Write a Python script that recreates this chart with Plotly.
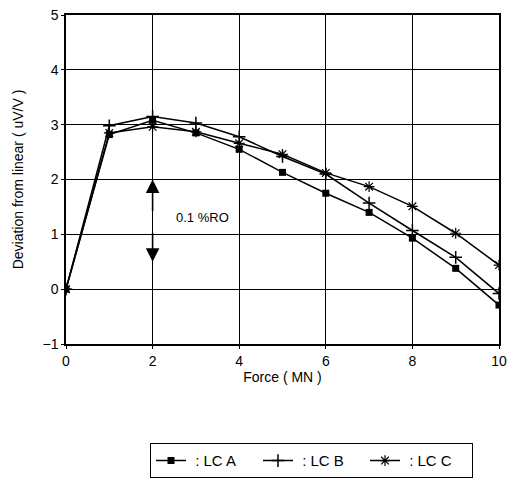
import plotly.graph_objects as go

force = [0, 1, 2, 3, 4, 5, 6, 7, 8, 9, 10]
lc_a = [0, 2.82, 3.08, 2.85, 2.55, 2.13, 1.75, 1.40, 0.93, 0.38, -0.29]
lc_b = [0, 2.98, 3.15, 3.03, 2.78, 2.42, 2.10, 1.57, 1.07, 0.58, -0.08]
lc_c = [0, 2.85, 2.96, 2.87, 2.66, 2.46, 2.12, 1.87, 1.51, 1.02, 0.44]
series_names = [" : LC A", " : LC B", " : LC C"]
x_ticks = [0, 2, 4, 6, 8, 10]
y_ticks = [-1, 0, 1, 2, 3, 4, 5]

font = "Liberation Sans, Arial, sans-serif"

fig = go.Figure()
fig.add_trace(go.Scatter(x=force, y=lc_a, name=series_names[0], mode="lines+markers",
                         line=dict(color="black", width=1.5),
                         marker=dict(symbol="square", size=7, color="black")))
fig.add_trace(go.Scatter(x=force, y=lc_b, name=series_names[1], mode="lines+markers",
                         line=dict(color="black", width=1.5),
                         marker=dict(symbol="cross-thin", size=9, color="black",
                                     line=dict(color="black", width=1.5))))
fig.add_trace(go.Scatter(x=force, y=lc_c, name=series_names[2], mode="lines+markers",
                         line=dict(color="black", width=1.5),
                         marker=dict(symbol="asterisk", size=9, color="black",
                                     line=dict(color="black", width=1.2))))

# 0.1 %RO double arrow
fig.add_annotation(x=2, y=2.0, ax=2, ay=1.4, xref="x", yref="y", axref="x", ayref="y",
                   text="", showarrow=True, arrowhead=2, arrowsize=1.7, arrowwidth=1.6,
                   arrowcolor="black")
fig.add_annotation(x=2, y=0.5, ax=2, ay=1.05, xref="x", yref="y", axref="x", ayref="y",
                   text="", showarrow=True, arrowhead=2, arrowsize=1.7, arrowwidth=1.6,
                   arrowcolor="black")
fig.add_annotation(x=2.5, y=1.3, xref="x", yref="y", text="0.1 %RO", showarrow=False,
                   xanchor="left", yanchor="middle",
                   font=dict(family=font, size=13, color="black"))

axis_common = dict(showline=True, linecolor="black", linewidth=1.5, mirror=True,
                   showgrid=True, gridcolor="black", gridwidth=1, zeroline=False,
                   ticks="outside", ticklen=3, tickcolor="black", automargin=False,
                   ticklabeloverflow="allow",
                   tickfont=dict(family=font, size=14, color="black"))

fig.update_xaxes(range=[0, 10], tickvals=x_ticks,
                 title=dict(text="Force ( MN )", standoff=4,
                            font=dict(family=font, size=14, color="black")),
                 **axis_common)
fig.update_yaxes(range=[-1, 5], tickvals=y_ticks,
                 title=dict(text="Deviation from linear ( uV/V )", standoff=16,
                            font=dict(family=font, size=14, color="black")),
                 **axis_common)

fig.update_layout(
    width=518, height=480,
    margin=dict(l=58, r=27, t=7, b=144),
    paper_bgcolor="white", plot_bgcolor="white",
    showlegend=True,
    legend=dict(orientation="h", x=0.194, xanchor="left", y=-0.302, yanchor="top",
                bordercolor="black", borderwidth=1, bgcolor="white",
                font=dict(family=font, size=15, color="black"),
                itemwidth=30, entrywidth=62, entrywidthmode="pixels", tracegroupgap=0),
)

fig.write_html("out.html")
